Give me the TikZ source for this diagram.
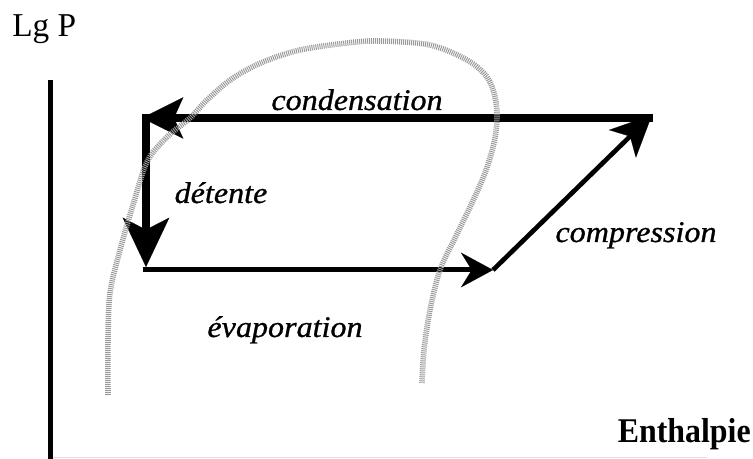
\documentclass[tikz,border=0pt]{standalone}
\usepackage{fontspec}
\usepackage{graphicx}
\setmainfont{Liberation Serif}
\newfontfamily\labfont[FakeBold=0.8]{Liberation Serif}
\usetikzlibrary{arrows.meta}
\newcommand{\stretchlab}[1]{\scalebox{1.07}[1]{\labfont\itshape #1}}
\begin{document}
\begin{tikzpicture}[x=0.75pt,y=-0.75pt,
  lab/.style={inner sep=0pt,font=\fontsize{22.5}{27}\selectfont},
  axisline/.style={line width=3.75pt},
  faintaxis/.style={black!12,line width=0.75pt},
  condline/.style={line width=5.5pt,-{Stealth[length=31pt,width=31pt,inset=7pt,line width=0.1pt]}},
  detline/.style={line width=6pt,-{Stealth[length=37pt,width=35pt,inset=9pt,line width=0.1pt]}},
  evapline/.style={line width=3.75pt,-{Stealth[length=24pt,width=26pt,inset=8pt,line width=0.1pt]}},
  compline/.style={line width=3.5pt,-{Stealth[length=31pt,width=29pt,inset=8pt,line width=0.1pt]}},
  dome/.style={black!40,line width=4.2pt,dash pattern=on 0.75pt off 0.75pt}
]
\useasboundingbox (0,0) rectangle (753,459);
% axes
\coordinate (axTop) at (50,80);
\coordinate (axBot) at (50,459);
\coordinate (hxL) at (50,457);
\coordinate (hxR) at (707,457);
\draw[faintaxis] (hxL) -- (hxR);
\draw[axisline] (axTop) -- (axBot);
% cycle corners
\coordinate (TR) at (653,118);
\coordinate (cTip) at (142,118);
\coordinate (dTop) at (146,114);
\coordinate (dTip) at (146,267);
\coordinate (eStart) at (143,270);
\coordinate (BR) at (493,270);
\coordinate (kTip) at (652,115);
\draw[condline] (TR) -- (cTip);
\draw[detline] (dTop) -- (dTip);
\draw[evapline] (eStart) -- (BR);
\draw[compline] (BR) -- (kTip);
% labels
\node[lab,anchor=base] (tcond) at (357,110) {\stretchlab{condensation}};
\node[lab,anchor=base] (tdet) at (221,203) {\stretchlab{détente}};
\node[lab,anchor=base] (tevap) at (285,337) {\stretchlab{évaporation}};
\node[lab,anchor=base] (tcomp) at (636,242) {\stretchlab{compression}};
\node[inner sep=0pt,anchor=base west,font=\fontsize{25}{30}\selectfont] (ylab) at (12,37) {Lg P};
\node[inner sep=0pt,anchor=base east,font=\fontsize{26}{30}\selectfont\bfseries] (xlab) at (751,442) {\scalebox{0.92}[1]{Enthalpie}};
% saturation dome
\draw[dome] plot[smooth,tension=0.55] coordinates {
 (108,395) (108,340) (110,293) (120,250) (133,205) (147,162) (166,138)
 (190,118) (208,99) (233,78) (263,62) (300,50) (347,43) (380,41)
 (430,45) (467,60) (487,77) (495,97) (497,118) (494,143) (485,173)
 (471,205) (455,238) (440,270) (430,310) (424,350) (422,383)};
\end{tikzpicture}
\end{document}
